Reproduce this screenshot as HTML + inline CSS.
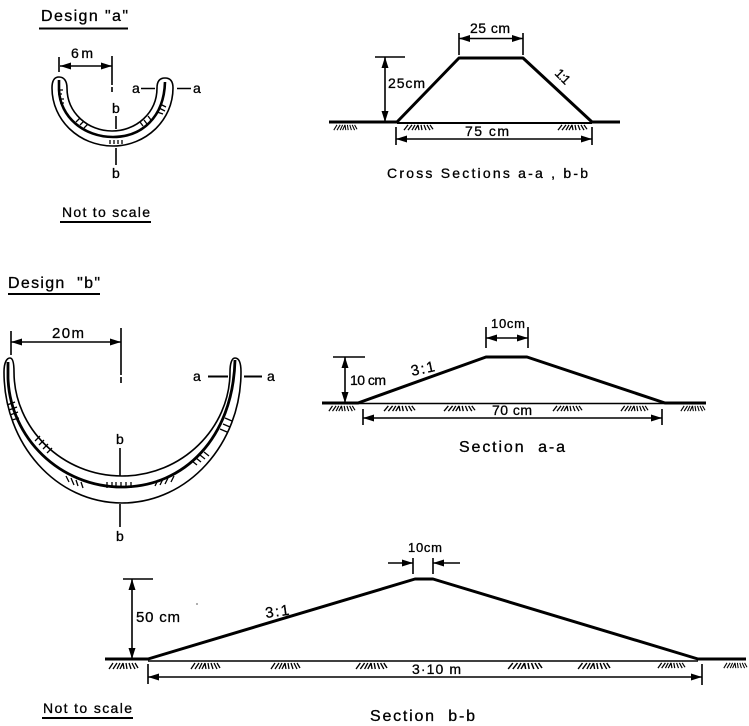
<!DOCTYPE html>
<html><head><meta charset="utf-8"><title>Design a and b</title>
<style>
html,body{margin:0;padding:0;background:#fff}
svg{display:block}
text{font-family:"Liberation Sans",sans-serif;fill:#000;stroke:#000;stroke-width:.3;font-size:14px}
.l{fill:none;stroke:#000;stroke-width:1.6}
.t{fill:none;stroke:#000;stroke-width:3;stroke-linejoin:round}
.h{fill:none;stroke:#000;stroke-width:1.3}
</style></head><body>
<svg xmlns="http://www.w3.org/2000/svg" width="749" height="726" viewBox="0 0 749 726">
<defs>
<marker id="a" viewBox="0 0 11 7" refX="11" refY="3.500" markerWidth="11" markerHeight="7" markerUnits="userSpaceOnUse" orient="auto-start-reverse"><path d="M0 0L11 3.500L0 7Z"/></marker>
<symbol id="g" viewBox="0 0 30 8" preserveAspectRatio="none" overflow="visible"><path class="h" d="M1 7L5 1M5 7L9 1M9 7L12 1M12 7L15 1M15 1L16 7M18 1L19 7M21 1L23 7M24 1L27 7M27 1L30 6"/></symbol>
</defs>

<!-- Design a -->
<text x="41" y="21" textLength="87" style="font-size:16px">Design "a"</text>
<path class="t" d="M39 28.500H128" style="stroke-width:2"/>
<text x="71" y="58" textLength="22" style="font-size:14px">6m</text>
<path class="l" d="M60 66H112" marker-start="url(#a)" marker-end="url(#a)"/>
<path class="l" d="M59 57V72M112 56V85M112 87V92"/>
<path class="l" d="M52 88C52 80 55 77 59 77C64 77 67 81 67 88C67 113 88 131 112 131C136 131 157 113 157 88C157 81 160 78 165 78C170 78 173 81 173 88C173 120 146 146 113 146C79 146 52 120 52 88Z"/>
<path class="t" d="M59 80V90C60 117 84 137 113 137C142 137 164 117 165 82" style="stroke-width:2.600"/>
<path class="h" d="M58 90H63M58 94H62M59 99H64M60 103H64M76 122L80 118M80 125L84 121M84 128L88 124M143 126L140 122M147 124L144 120M151 120L148 116M160 104L166 107M159 108L165 111M157 112L163 114M110 140V144M114 140V144M118 140V144M122 140V144"/>
<text x="132" y="93" style="font-size:14px">a</text>
<path class="l" d="M141 88.500H155M177 88.500H191"/>
<text x="193" y="93" style="font-size:14px">a</text>
<text x="112" y="113">b</text>
<path class="l" d="M116 116V129M116 148V165"/>
<text x="112" y="178">b</text>
<text x="62" y="217" textLength="88" style="font-size:14px">Not to scale</text>
<path class="t" d="M60 222H151" style="stroke-width:2"/>

<!-- Cross sections -->
<path class="t" d="M329 122H397L459 58H523L592 122H620"/>
<path class="l" d="M397 123H592" style="stroke-width:2"/>
<use href="#g" x="333" y="124" width="24" height="7"/>
<use href="#g" x="403" y="124" width="30" height="7"/>
<use href="#g" x="557" y="124" width="30" height="7"/>
<path class="l" d="M459 33V55M523 33V55M375 57H405M396 127V145M592 127V145"/>
<path class="l" d="M459 38.500H523" marker-start="url(#a)" marker-end="url(#a)"/>
<path class="l" d="M385 57V122" marker-start="url(#a)" marker-end="url(#a)"/>
<path class="l" d="M396 139H592" marker-start="url(#a)" marker-end="url(#a)"/>
<text x="470" y="33" textLength="40">25 cm</text>
<text x="388" y="88" textLength="37">25cm</text>
<text x="465" y="136" textLength="44">75 cm</text>
<text transform="translate(554 74) rotate(45)" textLength="16" style="font-size:13px">1:1</text>
<text x="387" y="178" textLength="201" style="font-size:14px">Cross  Sections  a-a , b-b</text>

<!-- Design b -->
<text x="8" y="288" textLength="92" style="font-size:16px;white-space:pre">Design  "b"</text>
<path class="t" d="M8 294H100" style="stroke-width:2"/>
<text x="52" y="338" textLength="32" style="font-size:15px">20m</text>
<path class="l" d="M11 342H121" marker-start="url(#a)" marker-end="url(#a)"/>
<path class="l" d="M11 331V355M121 328V375M121 377V383"/>
<path class="l" d="M4 372C4 362 7 358 10 358C13 358 14 364 14 372C14 428 62 476 122 476C182 476 230 428 230 372C230 363 232 358 235 358C239 358 241 363 241 372C241 444 188 503 122 503C56 503 4 444 4 372Z"/>
<path class="t" d="M8 362V378C10 438 60 487 122 487C184 487 233 438 235 360" style="stroke-width:2.800"/>
<path class="h" d="M7 405L15 402M9 410L17 407M10 415L18 412M12 420L19 418M35 441L40 436M39 445L44 440M43 449L48 444M47 453L52 448M66 476L69 482M71 478L74 485M76 480L78 486M81 482L83 488M107 482V488M112 482V488M116 482V488M121 482V488M126 482V488M131 482V488M155 486L158 480M160 485L163 479M165 484L168 478M171 482L174 476M192 461L197 465M196 458L201 462M200 455L205 459M204 452L209 456M220 429L227 432M223 424L230 427M225 418L232 421"/>
<text x="193" y="381">a</text>
<path class="t" d="M208 376.500H228M244 376.500H262" style="stroke-width:2"/>
<text x="267" y="381">a</text>
<text x="116" y="444">b</text>
<path class="l" d="M120 448V476M120 504V527"/>
<text x="116" y="541">b</text>

<!-- Section a-a -->
<path class="t" d="M322 403H358L486 357H527L665 403H706"/>
<path class="l" d="M358 403.500H665"/>
<use href="#g" x="328" y="405" width="27" height="7"/>
<use href="#g" x="383" y="405" width="32" height="7"/>
<use href="#g" x="443" y="405" width="32" height="7"/>
<use href="#g" x="552" y="405" width="30" height="7"/>
<use href="#g" x="620" y="405" width="28" height="7"/>
<use href="#g" x="680" y="405" width="25" height="7"/>
<path class="l" d="M486 327V348M528 327V348M333 357H365M363 409V425M662 409V425"/>
<path class="l" d="M486 338H528" marker-start="url(#a)" marker-end="url(#a)"/>
<path class="l" d="M345 357V403" marker-start="url(#a)" marker-end="url(#a)"/>
<path class="l" d="M363 418H662" marker-start="url(#a)" marker-end="url(#a)"/>
<text x="491" y="328" textLength="34" style="font-size:13px">10cm</text>
<text x="350" y="385" textLength="36" style="font-size:14px">10 cm</text>
<text transform="translate(412 376) rotate(-12)" textLength="24" style="font-size:15px">3:1</text>
<text x="492" y="415" textLength="40" style="font-size:14px">70 cm</text>
<text x="459" y="452" textLength="106" style="font-size:16px;white-space:pre">Section  a-a</text>

<!-- Section b-b -->
<path class="t" d="M105 659H148L415 579H433L698 659H746"/>
<path class="l" d="M148 661H698"/>
<use href="#g" x="108" y="662" width="30" height="8"/>
<use href="#g" x="190" y="662" width="30" height="8"/>
<use href="#g" x="270" y="662" width="30" height="8"/>
<use href="#g" x="355" y="662" width="32" height="8"/>
<use href="#g" x="507" y="662" width="35" height="8"/>
<use href="#g" x="577" y="662" width="33" height="8"/>
<use href="#g" x="657" y="662" width="28" height="7"/>
<use href="#g" x="723" y="662" width="24" height="7"/>
<path class="l" d="M413 558V574M433 558V574M123 579H153M148 664V684M702 664V685"/>
<path class="l" d="M388 563H413" marker-end="url(#a)"/>
<path class="l" d="M460 563H433" marker-end="url(#a)"/>
<path class="l" d="M132 579V659" marker-start="url(#a)" marker-end="url(#a)"/>
<path class="l" d="M148 677H702" marker-start="url(#a)" marker-end="url(#a)"/>
<text x="408" y="552" textLength="34" style="font-size:13px">10cm</text>
<text x="136" y="622" textLength="44" style="font-size:15px">50 cm</text>
<text transform="translate(266 618) rotate(-8)" textLength="24" style="font-size:15px">3:1</text>
<text x="412" y="674" textLength="49" style="font-size:14px">3·10 m</text>
<text x="370" y="721" textLength="105" style="font-size:16px;white-space:pre">Section  b-b</text>
<text x="43" y="713" textLength="89" style="font-size:14px">Not to scale</text>
<path class="t" d="M42 718H133" style="stroke-width:2"/>
<path class="h" d="M196.500 604H197.500"/>
</svg>
</body></html>
